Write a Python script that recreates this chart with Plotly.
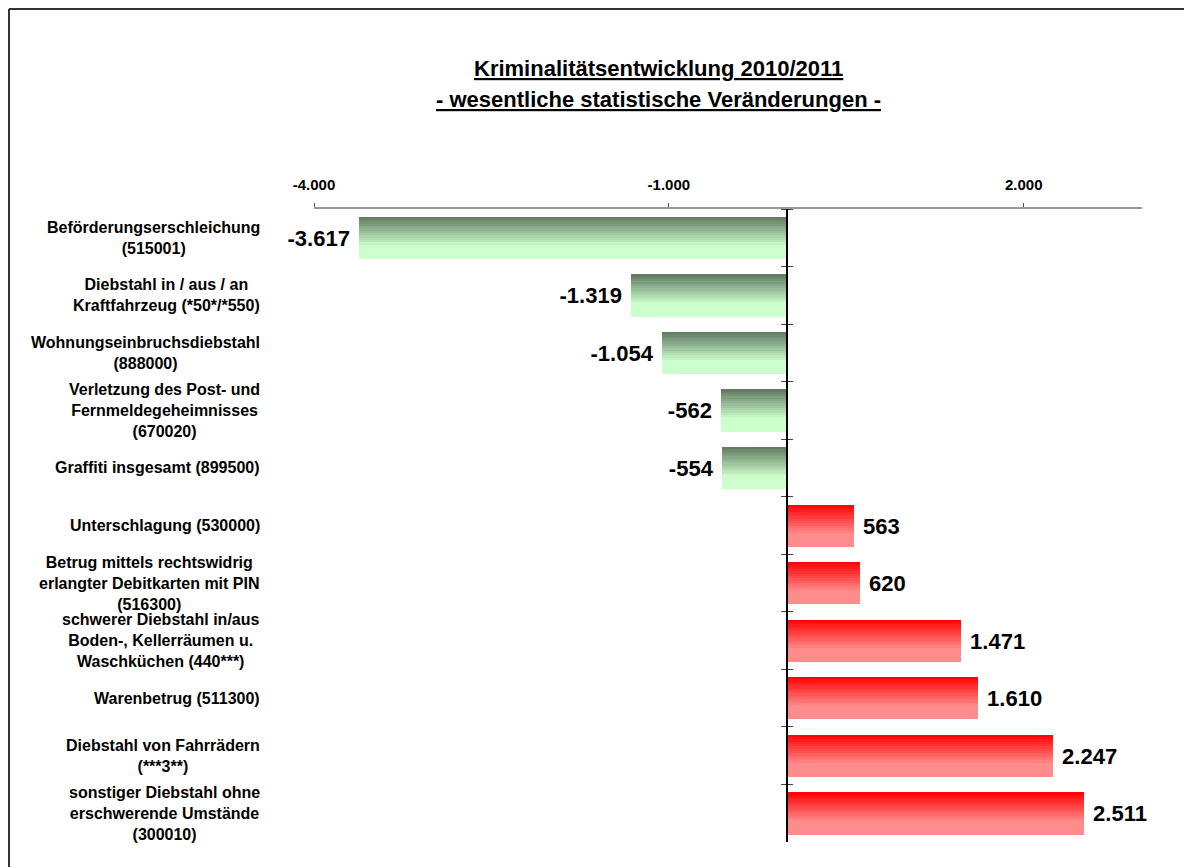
import plotly.graph_objects as go

# Daten
categories = [
    "Beförderungserschleichung<br>(515001)",
    "Diebstahl in / aus / an<br>Kraftfahrzeug (*50*/*550)",
    "Wohnungseinbruchsdiebstahl<br>(888000)",
    "Verletzung des Post- und<br>Fernmeldegeheimnisses<br>(670020)",
    "Graffiti insgesamt (899500)",
    "Unterschlagung (530000)",
    "Betrug mittels rechtswidrig<br>erlangter Debitkarten mit PIN<br>(516300)",
    "schwerer Diebstahl in/aus<br>Boden-, Kellerräumen u.<br>Waschküchen (440***)",
    "Warenbetrug (511300)",
    "Diebstahl von Fahrrädern<br>(***3**)",
    "sonstiger Diebstahl ohne<br>erschwerende Umstände<br>(300010)",
]
values = [-3617, -1319, -1054, -562, -554, 563, 620, 1471, 1610, 2247, 2511]
tick_vals = [-4000, -1000, 2000]

title_1 = "Kriminalitätsentwicklung 2010/2011"
title_2 = "- wesentliche statistische Veränderungen -"


def de_num(v):
    return f"{v:,}".replace(",", ".")


def mix(c0, c1, t):
    return "rgb(%d,%d,%d)" % tuple(round(a + (b - a) * t) for a, b in zip(c0, c1))


GREEN_TOP, GREEN_BOT = (95, 120, 95), (204, 255, 204)
RED_TOP, RED_BOT = (255, 0, 0), (255, 140, 140)

FONT = "Liberation Sans, Arial, sans-serif"
BAR_W = 0.73
N = 18
n = len(categories)
rng = [n - 0.5, -0.5]

fig = go.Figure()

# Balken mit Farbverlauf (in Streifen)
for i in range(N):
    t = min((i + 0.5) / N / 0.7, 1.0)
    cols = [mix(GREEN_TOP, GREEN_BOT, t) if v < 0 else mix(RED_TOP, RED_BOT, t) for v in values]
    fig.add_trace(go.Bar(
        y=categories, x=values, orientation="h",
        width=BAR_W / N * 1.15, offset=-BAR_W / 2 + i * BAR_W / N,
        marker=dict(color=cols, line=dict(width=0)),
        hoverinfo="skip", showlegend=False,
    ))

# Werte-Beschriftung
labels = [de_num(v) + " " if v < 0 else " " + de_num(v) for v in values]
fig.add_trace(go.Bar(
    y=categories, x=values, orientation="h", width=BAR_W,
    marker=dict(color="rgba(0,0,0,0)", line=dict(width=0)),
    text=labels, textposition="outside",
    constraintext="none", cliponaxis=False,
    textfont=dict(family=FONT, size=22, color="black", weight="bold"),
    hoverinfo="skip", showlegend=False,
))

# unsichtbare Spur für zweite Achse (Striche auf der rechten Seite)
fig.add_trace(go.Scatter(
    y=categories, x=[0] * n, yaxis="y2", mode="markers",
    marker=dict(opacity=0), hoverinfo="skip", showlegend=False,
))

for cat in categories:
    fig.add_annotation(
        x=-0.0628, xref="paper", y=cat, yref="y",
        text=cat, showarrow=False, xanchor="right", align="center",
        font=dict(family=FONT, size=16, color="black", weight="bold"),
    )

for txt, yy in [(title_1, 1.2212), (title_2, 1.1722)]:
    fig.add_annotation(
        x=0.4155, xref="paper", y=yy, yref="paper",
        text="<u>" + txt + "</u>", showarrow=False,
        xanchor="center", yanchor="middle",
        font=dict(family=FONT, size=22, color="black", weight="bold"),
    )

# Rahmen (nur oben und links sichtbar)
frame = dict(color="#333333", width=2)
fig.add_shape(type="line", xref="paper", yref="paper",
              x0=-0.3684, x1=1.2, y0=1.316, y1=1.316, line=frame)
fig.add_shape(type="line", xref="paper", yref="paper",
              x0=-0.3684, x1=-0.3684, y0=-0.2, y1=1.316, line=frame)

zero_pos = 4000 / 7000

fig.update_layout(
    width=1184, height=859,
    margin=dict(l=306, r=50, t=201, b=25),
    paper_bgcolor="white", plot_bgcolor="white",
    barmode="overlay", bargap=0,
    xaxis=dict(
        side="top", range=[-4000, 3000], tickvals=tick_vals,
        ticktext=[de_num(v) for v in tick_vals],
        ticks="outside", ticklen=4, tickcolor="#555555",
        showline=True, linecolor="#999999", linewidth=1.5,
        showgrid=False, zeroline=False, ticklabelstandoff=7,
        tickfont=dict(family=FONT, size=15, color="black", weight="bold"),
    ),
    yaxis=dict(
        type="category", range=rng, anchor="free", position=zero_pos,
        showticklabels=False, ticks="outside", ticklen=5, tickson="boundaries",
        tickcolor="#444444", showline=True, linecolor="black", linewidth=1.5,
        showgrid=False, zeroline=False,
    ),
    yaxis2=dict(
        type="category", range=rng, overlaying="y", side="right",
        anchor="free", position=zero_pos,
        showticklabels=False, ticks="outside", ticklen=5, tickson="boundaries",
        tickcolor="#444444", showline=False, showgrid=False, zeroline=False,
    ),
)

fig.write_html("out.html")
